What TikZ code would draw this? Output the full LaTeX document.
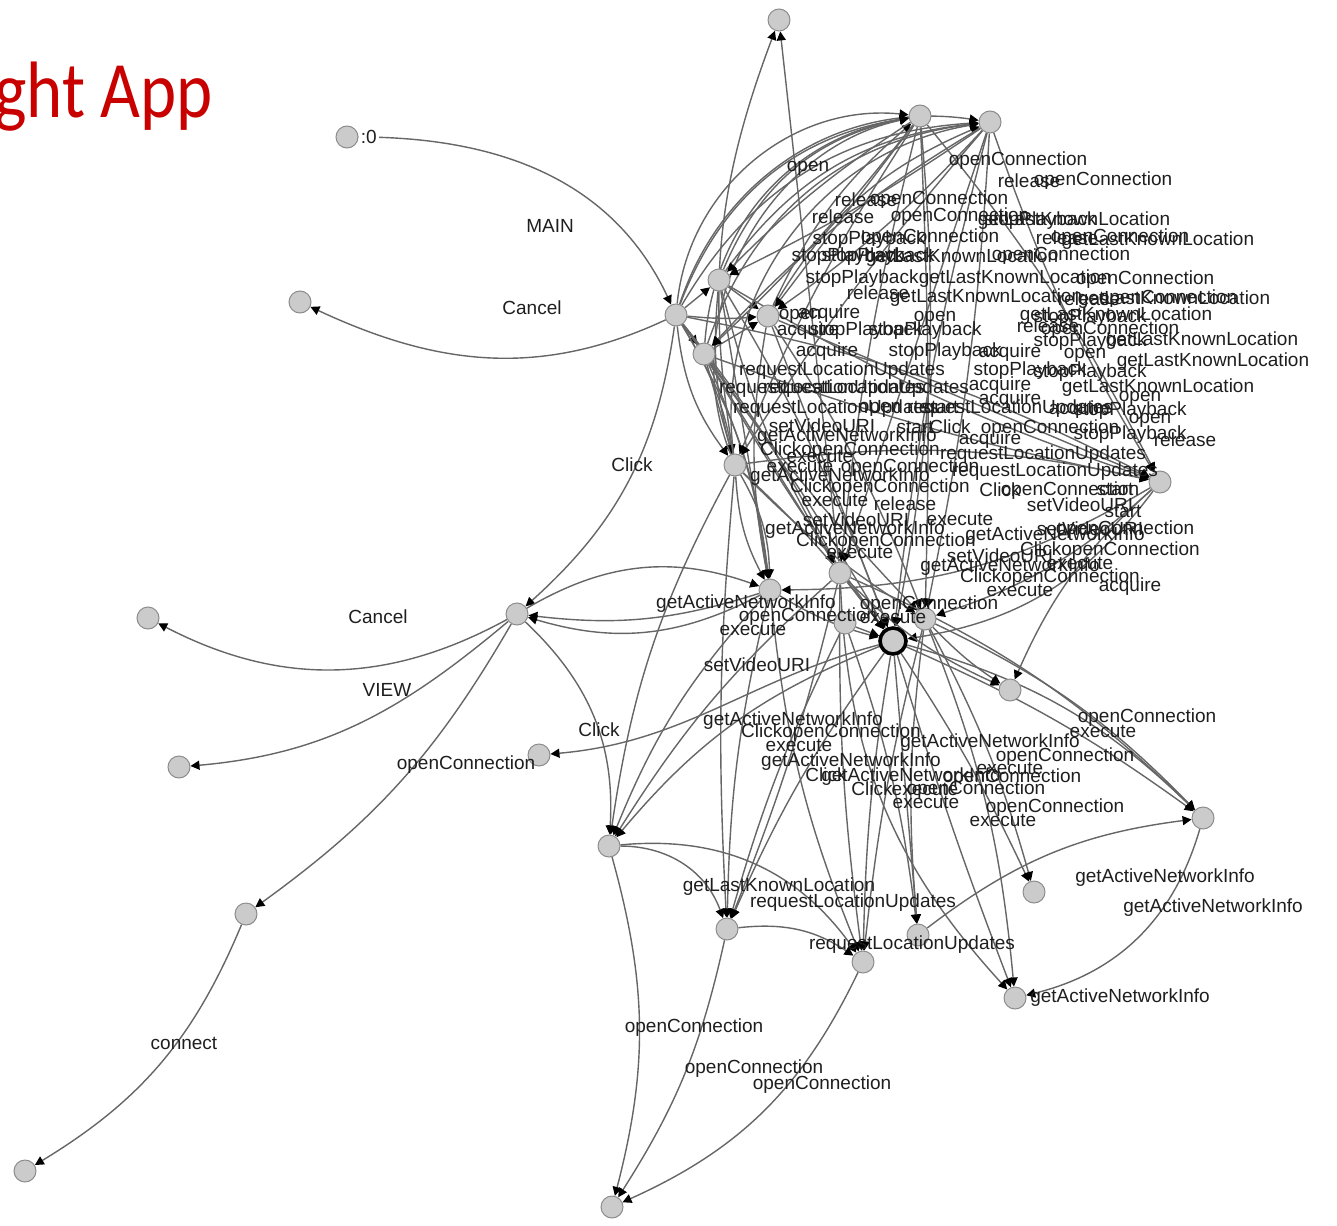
\documentclass[tikz,border=0pt]{standalone}
\usepackage{fontspec}
\setmainfont{Liberation Sans}
\newfontfamily\titlefont{Carlito}[FakeStretch=0.86]
\usetikzlibrary{arrows.meta}
\pgfdeclarelayer{edges}
\pgfsetlayers{edges,main}
\definecolor{titlered}{HTML}{C80000}
\definecolor{vfill}{HTML}{CBCBCB}
\definecolor{vline}{HTML}{8C8C8C}
\definecolor{eline}{HTML}{666666}
\definecolor{ltext}{HTML}{1E1E1E}
\begin{document}
\begin{tikzpicture}[x=0.5pt,y=-0.5pt,
  vtx/.style={circle,draw=vline,fill=vfill,line width=0.5pt,minimum size=11pt,inner sep=0pt},
  hubvtx/.style={vtx,draw=black,line width=1.8pt,minimum size=13pt},
  lnk/.style={draw=eline,line width=0.7pt,-{Triangle[length=4.5pt,width=4.5pt,color=black]}},
  lbl/.style={font=\fontsize{9.5}{11}\selectfont,text=ltext,inner sep=0pt},
]
\useasboundingbox (0,0) rectangle (1337,1225);

% title
\node[anchor=base west,inner sep=0pt,text=titlered,font=\titlefont\fontsize{40}{48}\selectfont] (title) at (-6,118) {ght App};

% vertices
\node[vtx,label={[lbl,fill=white,inner sep=1pt]right:{:0}}] (n0) at (347,137) {};
\foreach \nm/\px/\py in {A/676/315, B/300/302, C/779/20, D/920/116, E/990/122,
  F/719/280, G/768/316, H/704/354, I/735/465, J/1160/482, K/517/614,
  L/148/618, M/179/767, N/539/755, O/246/914, P/25/1171, Q/609/846,
  R/727/929, S/863/962, T/612/1207, U/1034/892, V/1203/818, W/1015/998,
  X/1010/690, Y/918/935, Z1/770/590, Z2/840/573, Z4/925/619, Z5/845/623}
  \node[vtx] (\nm) at (\px,\py) {};
\node[hubvtx] (Z3) at (893,641) {};

% connectors
\begin{pgfonlayer}{edges}
\draw[lnk] (n0) to[out=0,in=115] (A);
\draw[lnk] (A) to[out=205,in=-25] (B);
\draw[lnk] (A) to[bend left=20] (K);
\draw[lnk] (K) to[bend left=28] (L);
\draw[lnk] (K) to[out=220,in=5] (M);
\draw[lnk] (K) to[bend left=12] (O);
\draw[lnk] (O) to[bend left=18] (P);
\draw[lnk] (K) to[bend left=25] (Q);
\draw[lnk] (Z3) to[out=195,in=5] (N);
\draw[lnk] (Q) to[bend left=15] (T);
\draw[lnk] (R) to[bend left=10] (T);
\draw[lnk] (S) to[bend left=20] (T);
\draw[lnk] (Q) to[bend left=35] (R);
\draw[lnk] (Q) to[bend left=30] (S);
\draw[lnk] (R) to[bend left=20] (S);
\draw[lnk] (V) to[bend left=30] (W);
\draw[lnk] (Y) to[bend left=15] (V);
\foreach \src/\dst/\bnd in {
  A/D/45, A/D/30, A/E/40, A/E/28, A/F/0, A/G/-5, A/H/0, A/I/-15, A/I/10,
  A/J/8, A/Z1/12, A/Z2/6, A/Z3/3, A/Z4/-4,
  F/D/28, F/E/24, F/G/0, F/J/-6, F/Z3/5, F/Z2/-8, F/I/-10, F/Z1/0,
  G/D/12, G/E/18, G/J/0, G/Z3/0, G/Z4/6, G/Z1/-10,
  H/D/38, H/E/32, H/I/0, H/J/-4, H/Z3/-3, H/Z1/8, H/Z2/0, H/G/0,
  I/D/50, I/E/44, I/Z1/-12, I/Z1/14, I/Z3/5, I/Z4/-6, I/J/10, I/C/15,
  I/Q/-10, I/R/-4,
  D/G/0, D/Z2/-4, D/J/6, D/Z3/8, D/H/4, D/F/-6, D/I/-5, D/Z4/2,
  E/G/6, E/J/-6, E/Z4/4, E/Z3/-4, E/F/4, E/H/-8, E/I/-4, E/Z2/0,
  J/Z3/22, J/Z4/12, J/X/-12, J/Z1/15,
  K/Z1/25, Z1/K/12, Z1/K/22, Z1/Z3/-8, Z1/Q/-10, Z1/R/-6, Z1/S/-8,
  Z2/C/0, Z2/Z3/0, Z2/Q/-8, Z2/R/4, Z2/S/-4, Z2/V/10, Z2/X/-10, Z2/W/-20,
  Z5/Z3/0, Z5/R/-5, Z5/Y/6,
  Z3/Q/-14, Z3/R/-6, Z3/S/-4, Z3/Y/0, Z3/U/4, Z3/W/-2, Z3/V/6, Z3/V/14,
  Z4/V/10, Z4/U/6, Z4/S/-4, Z4/W/8, Z4/Y/-6, Z4/X/-6}
  \draw[lnk] (\src) to[bend left=\bnd] (\dst);
\end{pgfonlayer}

% connector labels
\foreach [count=\i] \lx/\ly/\lt in {
  550/226/MAIN, 532/308/Cancel, 808/168/open, 632/465/Click, 378/617/Cancel,
  387/690/VIEW, 466/765/openConnection, 599/730/Click, 184/1043/connect,
  757/665/setVideoURI, 746/604/getActiveNetworkInfo, 929/605/openConnection,
  808/617/openConnection, 893/617/execute, 753/629/execute,
  793/721/getActiveNetworkInfo, 831/733/ClickopenConnection, 799/745/execute,
  1147/718/openConnection, 1103/731/execute, 990/743/getActiveNetworkInfo,
  1065/757/openConnection, 851/762/getActiveNetworkInfo, 1010/768/execute,
  1012/778/openConnection, 826/775/Click, 911/777/getActiveNetworkInfo,
  872/789/Click, 925/789/execute, 976/790/openConnection, 926/802/execute,
  1055/808/openConnection, 1003/820/execute,
  1165/878/getActiveNetworkInfo, 1213/908/getActiveNetworkInfo,
  1120/998/getActiveNetworkInfo, 779/887/getLastKnownLocation,
  853/903/requestLocationUpdates, 912/945/requestLocationUpdates,
  694/1028/openConnection, 754/1069/openConnection, 822/1085/openConnection}
  \node[lbl] (ta\i) at (\lx,\ly) {\lt};

\foreach [count=\i] \lx/\ly/\lt in {
  1018/161/openConnection, 1029/181/release, 1103/181/openConnection,
  866/200/release, 939/200/openConnection,
  843/217/release, 960/217/openConnection, 1040/221/stopPlayback, 1074/221/getLastKnownLocation,
  869/240/stopPlayback, 930/238/openConnection, 1067/238/release, 1120/238/openConnection,
  1158/241/getLastKnownLocation,
  848/257/stopPlayback, 878/257/stopPlayback, 962/258/getLastKnownLocation, 1061/256/openConnection,
  862/279/stopPlayback, 1015/279/getLastKnownLocation, 1145/280/openConnection,
  878/293/release, 986/298/getLastKnownLocation, 1089/299/release, 1168/299/openConnection,
  1174/300/getLastKnownLocation,
  800/316/open, 829/314/acquire, 935/318/open, 1090/318/stopPlayback, 1116/316/getLastKnownLocation,
  808/331/acquire, 866/331/stopPlayback, 925/331/stopPlayback, 1048/326/release, 1110/330/openConnection,
  1090/342/stopPlayback, 1202/341/getLastKnownLocation,
  827/352/acquire, 945/352/stopPlayback, 1010/353/acquire, 1085/355/open,
  1213/362/getLastKnownLocation,
  842/371/requestLocationUpdates, 1030/371/stopPlayback, 1090/373/stopPlayback,
  822/389/requestLocationUpdates, 866/389/requestLocationUpdates, 1000/386/acquire,
  1158/388/getLastKnownLocation,
  1140/398/open, 1010/400/acquire,
  836/409/requestLocationUpdates, 880/409/open, 940/407/start, 1010/409/requestLocationUpdates,
  1080/410/acquire, 1130/411/stopPlayback,
  1150/420/open,
  822/426/setVideoURI, 915/427/start, 950/427/Click, 1050/429/openConnection,
  847/437/getActiveNetworkInfo, 990/440/acquire, 1130/435/stopPlayback, 1185/440/release,
  850/451/ClickopenConnection, 1043/455/requestLocationUpdates, 820/456/execute,
  800/466/execute, 910/468/openConnection, 1055/472/requestLocationUpdates,
  840/477/getActiveNetworkInfo,
  880/488/ClickopenConnection, 1000/490/Click, 1070/491/openConnection, 1115/489/start,
  835/500/execute, 905/504/release, 1080/505/setVideoURI, 1123/511/start,
  856/520/setVideoURI, 960/519/execute,
  855/530/getActiveNetworkInfo, 1090/529/setVideoURI, 1125/530/openConnection,
  886/542/ClickopenConnection, 1055/536/getActiveNetworkInfo,
  860/552/execute, 1110/551/ClickopenConnection,
  1000/556/setVideoURI, 1010/567/getActiveNetworkInfo, 1080/563/execute,
  1050/578/ClickopenConnection, 1020/590/execute, 1130/587/acquire}
  \node[lbl] (tb\i) at (\lx,\ly) {\lt};
\end{tikzpicture}
\end{document}
